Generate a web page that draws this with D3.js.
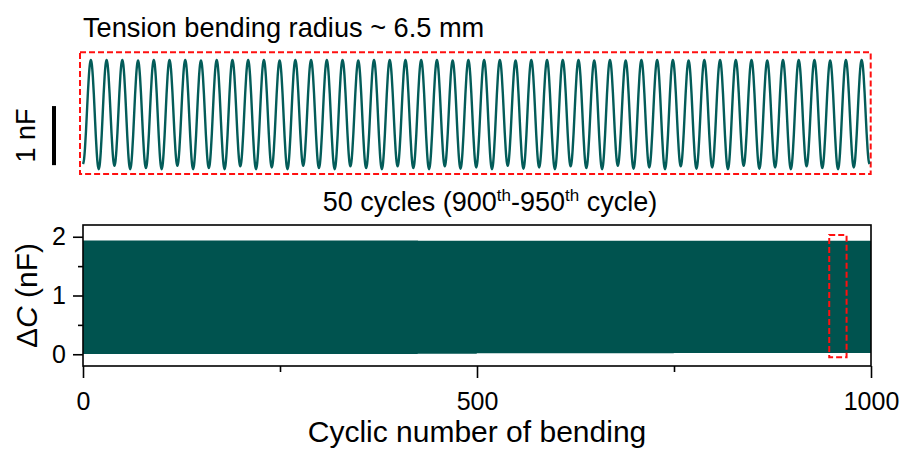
<!DOCTYPE html>
<html>
<head>
<meta charset="utf-8">
<script src="https://cdn.jsdelivr.net/npm/d3@7"></script>
<style>
  body { margin: 0; background: #fff; }
  text { font-family: Arial, "Liberation Sans", sans-serif; fill: #000; }
</style>
</head>
<body>
<div id="chart"></div>
<script>
// one bending cycle, trough -> peak -> trough, normalised
const cycleShape = [0, 0.04, 0.15, 0.31, 0.5, 0.69, 0.85, 0.96, 1, 0.96, 0.85, 0.69, 0.5, 0.31, 0.15, 0.04]

// zoomed window (900th - 950th cycle)
const zoomCycles = [900, 950]
const zoomPeaks = [1.88, 1.88, 1.88, 1.87, 1.88, 1.88, 1.88, 1.87, 1.88, 1.88,
  1.88, 1.88, 1.87, 1.88, 1.88, 1.88, 1.88, 1.87, 1.88, 1.88,
  1.88, 1.88, 1.88, 1.87, 1.88, 1.88, 1.88, 1.87, 1.88, 1.88,
  1.88, 1.88, 1.87, 1.88, 1.87, 1.88, 1.88, 1.88, 1.87, 1.88,
  1.88, 1.88, 1.88, 1.87, 1.88, 1.88, 1.88, 1.87, 1.88, 1.88]
const zoomTroughs = [0.12, 0.03, 0.09, 0.03, 0.05, 0.03, 0.09, 0.03, 0.05, 0.03,
  0.08, 0.03, 0.06, 0.03, 0.09, 0.05, 0.03, 0.08, 0.05, 0.03,
  0.08, 0.05, 0.03, 0.08, 0.04, 0.06, 0.03, 0.09, 0.04, 0.06,
  0.03, 0.08, 0.05, 0.03, 0.09, 0.04, 0.06, 0.03, 0.08, 0.04,
  0.06, 0.03, 0.09, 0.04, 0.06, 0.03, 0.08, 0.05, 0.03, 0.06, 0.12]
const scaleBar = [0.1, 1.1]

// full test, 1000 cycles, envelope read per block of 25 cycles
const fullCycles = [0, 1000]
const blockSize = 25
const blockPeaks = [1.935, 1.935, 1.935, 1.935, 1.935, 1.935, 1.935, 1.935, 1.935, 1.935,
  1.935, 1.935, 1.935, 1.935, 1.935, 1.935, 1.935, 1.93, 1.93, 1.93,
  1.93, 1.93, 1.93, 1.93, 1.93, 1.93, 1.93, 1.93, 1.93, 1.93,
  1.93, 1.93, 1.93, 1.93, 1.93, 1.93, 1.93, 1.93, 1.93, 1.93]
const blockTroughs = [0.005, 0.005, 0.005, 0.005, 0.005, 0.005, 0.005, 0.005, 0.005, 0.005,
  0.005, 0.005, 0.005, 0.005, 0.005, 0.005, 0.005, 0.01, 0.01, 0.01,
  0.015, 0.015, 0.015, 0.015, 0.015, 0.015, 0.015, 0.015, 0.015, 0.015,
  0.02, 0.02, 0.02, 0.02, 0.02, 0.02, 0.02, 0.02, 0.02, 0.02]
const highlightCycles = [947, 969]
const highlightValues = [-0.05, 2.03]

const xTicks = [0, 500, 1000]
const xMinorTicks = [250, 750]
const yTicks = [0, 1, 2]
const yMinorTicks = [0.5, 1.5]

const width = 906
const height = 450
const teal = '#035c59'
const bandTeal = '#00534f'

const svg = d3.select('#chart')
  .append('svg')
  .attr('width', width)
  .attr('height', height)

// builds the point list of a run of cycles
function buildWave(start, peaks, troughs) {
  const pts = []
  const n = cycleShape.length
  peaks.forEach((p, i) => {
    cycleShape.forEach((s, k) => {
      const t = k <= n / 2 ? troughs[i] : troughs[i + 1]
      pts.push([start + i + k / n, t + (p - t) * s])
    })
  })
  pts.push([start + peaks.length, troughs[peaks.length]])
  return pts
}

// ---------- top panel ----------
const xTop = d3.scaleLinear().domain(zoomCycles).range([83, 869.5])
const yTop = d3.scaleLinear().domain([-0.05, 2.01]).range([174, 52.3])

svg.append('text')
  .attr('x', 83)
  .attr('y', 37)
  .attr('font-size', 27.2)
  .text('Tension bending radius ~ 6.5 mm')

svg.append('rect')
  .attr('x', 80)
  .attr('y', 52.3)
  .attr('width', 790.7)
  .attr('height', 121.7)
  .attr('fill', 'none')
  .attr('stroke', '#ff1010')
  .attr('stroke-width', 2)
  .attr('stroke-dasharray', '6,3')

const topWave = buildWave(zoomCycles[0], zoomPeaks, zoomTroughs)
svg.append('path')
  .datum(topWave)
  .attr('fill', 'none')
  .attr('stroke', teal)
  .attr('stroke-width', 2.4)
  .attr('stroke-linejoin', 'round')
  .attr('d', d3.line().x(d => xTop(d[0])).y(d => yTop(d[1])).curve(d3.curveMonotoneX))

svg.append('line')
  .attr('x1', 54).attr('x2', 54)
  .attr('y1', yTop(scaleBar[0]))
  .attr('y2', yTop(scaleBar[1]))
  .attr('stroke', '#000')
  .attr('stroke-width', 4)

svg.append('text')
  .attr('transform', `translate(35, ${yTop((scaleBar[0] + scaleBar[1]) / 2)}) rotate(-90)`)
  .attr('text-anchor', 'middle')
  .attr('font-size', 27)
  .text('1 nF')

svg.append('text')
  .attr('x', 490)
  .attr('y', 211)
  .attr('text-anchor', 'middle')
  .attr('font-size', 27)
  .call(t => {
    t.append('tspan').text('50 cycles (900')
    t.append('tspan').attr('font-size', 17).attr('dy', -10).text('th')
    t.append('tspan').attr('dy', 10).text('-950')
    t.append('tspan').attr('font-size', 17).attr('dy', -10).text('th')
    t.append('tspan').attr('dy', 10).text(' cycle)')
  })

// ---------- bottom panel ----------
const plot = { left: 83, right: 871, top: 225, bottom: 366 }
const x = d3.scaleLinear().domain(fullCycles).range([plot.left, plot.right])
const y = d3.scaleLinear().domain([-0.2, 2.2]).range([plot.bottom, plot.top])

const nCycles = fullCycles[1] - fullCycles[0]
const fullPeaks = d3.range(nCycles).map(i => blockPeaks[Math.floor(i / blockSize)])
const fullTroughs = d3.range(nCycles + 1).map(i => blockTroughs[Math.min(Math.floor(i / blockSize), blockTroughs.length - 1)])
const fullWave = buildWave(fullCycles[0], fullPeaks, fullTroughs)

svg.append('clipPath').attr('id', 'clip')
  .append('rect')
  .attr('x', plot.left).attr('y', plot.top)
  .attr('width', plot.right - plot.left).attr('height', plot.bottom - plot.top)

svg.append('path')
  .datum(fullWave)
  .attr('clip-path', 'url(#clip)')
  .attr('fill', 'none')
  .attr('stroke', bandTeal)
  .attr('stroke-width', 1.1)
  .attr('d', d3.line().x(d => x(d[0])).y(d => y(d[1])))

svg.append('rect')
  .attr('x', x(highlightCycles[0]))
  .attr('y', y(highlightValues[1]))
  .attr('width', x(highlightCycles[1]) - x(highlightCycles[0]))
  .attr('height', y(highlightValues[0]) - y(highlightValues[1]))
  .attr('fill', 'none')
  .attr('stroke', '#ff1010')
  .attr('stroke-width', 2)
  .attr('stroke-dasharray', '6,3')

const xAxis = d3.axisBottom(x).tickValues(xTicks).tickSize(12).tickPadding(14).tickFormat(d3.format('d'))
const xMinor = d3.axisBottom(x).tickValues(xMinorTicks).tickSize(6).tickFormat('')
const yAxis = d3.axisLeft(y).tickValues(yTicks).tickSize(10).tickPadding(7).tickFormat(d3.format('d'))
const yMinor = d3.axisLeft(y).tickValues(yMinorTicks).tickSize(5).tickFormat('')

function styleAxis(g) {
  g.select('.domain').remove()
  g.selectAll('line').attr('stroke', '#000').attr('stroke-width', 1.6)
  g.selectAll('text').attr('font-size', 25).attr('font-family', 'Arial, "Liberation Sans", sans-serif').attr('fill', '#000')
}

svg.append('g').attr('transform', `translate(0, ${plot.bottom})`).call(xAxis).call(styleAxis)
svg.append('g').attr('transform', `translate(0, ${plot.bottom})`).call(xMinor).call(styleAxis)
svg.append('g').attr('transform', `translate(${plot.left}, 0)`).call(yAxis).call(styleAxis)
svg.append('g').attr('transform', `translate(${plot.left}, 0)`).call(yMinor).call(styleAxis)

svg.append('rect')
  .attr('x', plot.left).attr('y', plot.top)
  .attr('width', plot.right - plot.left).attr('height', plot.bottom - plot.top)
  .attr('fill', 'none')
  .attr('stroke', '#000')
  .attr('stroke-width', 1.6)

svg.append('text')
  .attr('x', (plot.left + plot.right) / 2)
  .attr('y', 442)
  .attr('text-anchor', 'middle')
  .attr('font-size', 30)
  .text('Cyclic number of bending')

svg.append('text')
  .attr('transform', `translate(37, ${(y(0) + y(2)) / 2}) rotate(-90)`)
  .attr('text-anchor', 'middle')
  .attr('font-size', 30)
  .call(t => {
    t.append('tspan').text('Δ')
    t.append('tspan').attr('font-style', 'italic').text('C')
    t.append('tspan').text(' (nF)')
  })
</script>
</body>
</html>
